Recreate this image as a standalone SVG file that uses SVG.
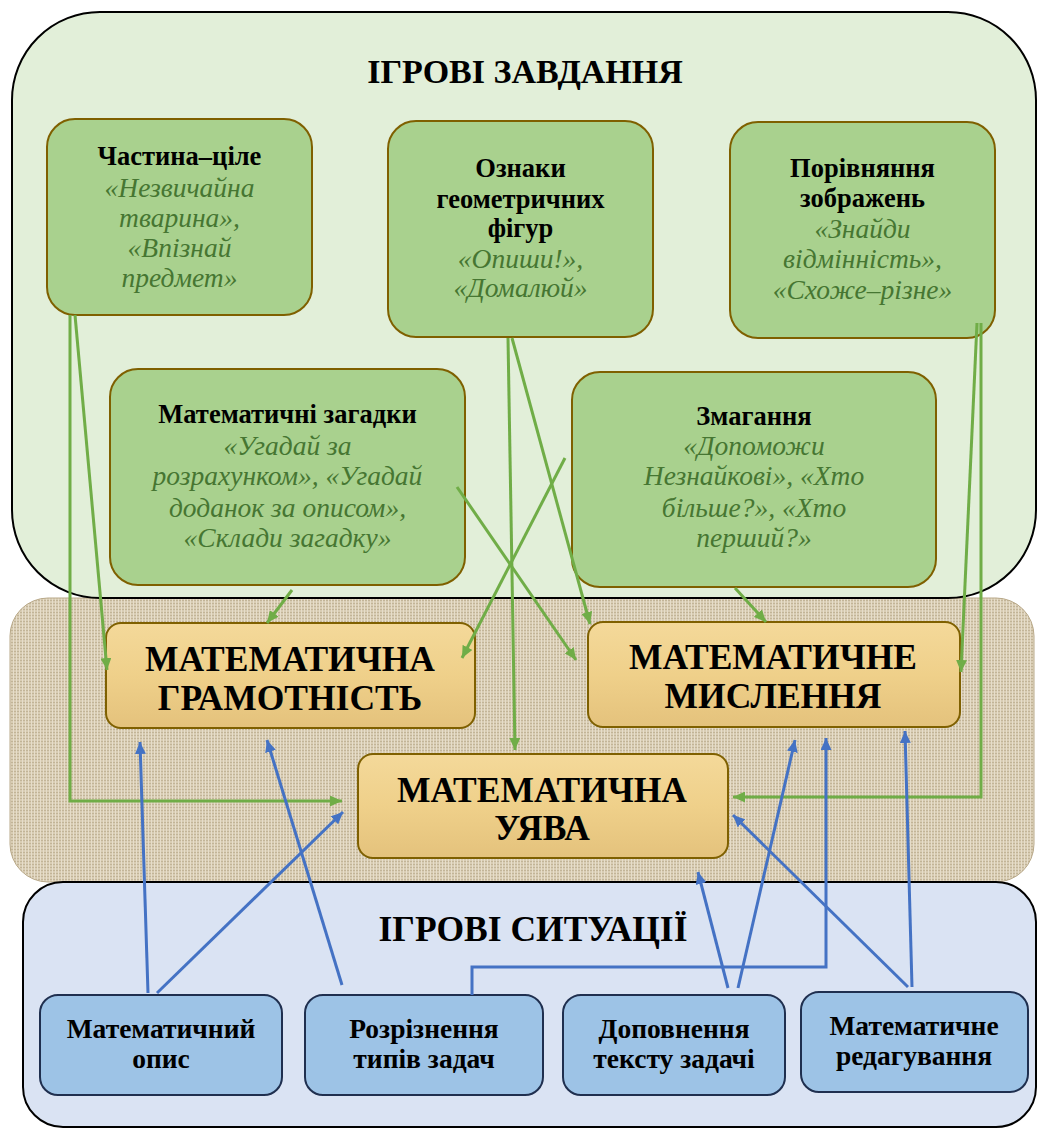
<svg xmlns="http://www.w3.org/2000/svg" width="1038" height="1131" viewBox="0 0 1038 1131">
<defs>
<pattern id="burlap" width="6" height="6" patternUnits="userSpaceOnUse">
<rect width="6" height="6" fill="#d8ccb3"/>
<path d="M0,0.5H6M0,3.5H6" stroke="#c2b497" stroke-width="1"/>
<path d="M1.5,0V6M4.5,0V6" stroke="#e6ddca" stroke-width="1"/>
</pattern>
<linearGradient id="parch" x1="0" y1="0" x2="0" y2="1">
<stop offset="0" stop-color="#f4d99a"/>
<stop offset="0.5" stop-color="#efd08a"/>
<stop offset="1" stop-color="#e4c27c"/>
</linearGradient>
<marker id="ag" markerWidth="12" markerHeight="11" refX="12" refY="5.5" orient="auto" markerUnits="userSpaceOnUse"><path d="M0,0 L12,5.5 L0,11 z" fill="#70ad47"/></marker>
<marker id="ab" markerWidth="12" markerHeight="11" refX="12" refY="5.5" orient="auto" markerUnits="userSpaceOnUse"><path d="M0,0 L12,5.5 L0,11 z" fill="#4472c4"/></marker>
</defs>
<style>
text{font-family:"Liberation Serif","DejaVu Serif",serif;text-anchor:middle;fill:#000}
.title{font-size:34px;font-weight:bold}
.title2{font-size:35.5px;font-weight:bold}
.gb{font-size:26.5px;font-weight:bold}
.gi{font-size:27.5px;font-style:italic;fill:#467632}
.ob{font-size:35.5px;font-weight:bold}
.bb{font-size:27.5px;font-weight:bold}
.gnode{fill:#a9d18e;stroke:#7f6000;stroke-width:2}
.onode{fill:url(#parch);stroke:#7f6000;stroke-width:2}
.bnode{fill:#9dc3e6;stroke:#1f2f4f;stroke-width:2}
.gl{fill:none;stroke:#70ad47;stroke-width:3;marker-end:url(#ag)}
.bl{fill:none;stroke:#4472c4;stroke-width:3;marker-end:url(#ab)}
</style>
<rect width="1038" height="1131" fill="#ffffff"/>

<g id="zone-middle">
<rect x="10" y="598" width="1024" height="284" rx="38" fill="url(#burlap)" stroke="#b8a888" stroke-width="1"/>
</g>
<g id="zone-top">
<rect x="12" y="12" width="1024" height="586" rx="88" fill="#e2efd9" stroke="#000" stroke-width="2"/>
<text class="title" x="525" y="83">ІГРОВІ ЗАВДАННЯ</text>
</g>
<g id="zone-bottom">
<rect x="23" y="882" width="1013" height="245" rx="40" fill="#dae3f3" stroke="#000" stroke-width="2"/>
<text class="title2" x="533" y="941">ІГРОВІ СИТУАЦІЇ</text>
</g>

<g id="node-chastyna">
<rect class="gnode" x="47" y="119" width="265" height="196" rx="28"/>
<text class="gb" x="179.5" y="165">Частина–ціле</text>
<text class="gi" x="179.5" y="197">«Незвичайна</text>
<text class="gi" x="179.5" y="227">тварина»,</text>
<text class="gi" x="179.5" y="257">«Впізнай</text>
<text class="gi" x="179.5" y="287">предмет»</text>
</g>
<g id="node-oznaky">
<rect class="gnode" x="388" y="121" width="265" height="216" rx="28"/>
<text class="gb" x="520.5" y="177">Ознаки</text>
<text class="gb" x="520.5" y="208">геометричних</text>
<text class="gb" x="520.5" y="237">фігур</text>
<text class="gi" x="520.5" y="268">«Опиши!»,</text>
<text class="gi" x="520.5" y="297">«Домалюй»</text>
</g>
<g id="node-porivniannia">
<rect class="gnode" x="730" y="122" width="265" height="216" rx="28"/>
<text class="gb" x="862.5" y="177">Порівняння</text>
<text class="gb" x="862.5" y="207">зображень</text>
<text class="gi" x="862.5" y="238">«Знайди</text>
<text class="gi" x="862.5" y="268">відмінність»,</text>
<text class="gi" x="862.5" y="299">«Схоже–різне»</text>
</g>
<g id="node-zahadky">
<rect class="gnode" x="110" y="369" width="355" height="216" rx="28"/>
<text class="gb" x="287.5" y="423">Математичні загадки</text>
<text class="gi" x="287.5" y="455">«Угадай за</text>
<text class="gi" x="287.5" y="485">розрахунком», «Угадай</text>
<text class="gi" x="287.5" y="517">доданок за описом»,</text>
<text class="gi" x="287.5" y="547">«Склади загадку»</text>
</g>
<g id="node-zmahannia">
<rect class="gnode" x="572" y="372" width="364" height="215" rx="28"/>
<text class="gb" x="754" y="425">Змагання</text>
<text class="gi" x="754" y="455">«Допоможи</text>
<text class="gi" x="754" y="485">Незнайкові», «Хто</text>
<text class="gi" x="754" y="517">більше?», «Хто</text>
<text class="gi" x="754" y="547">перший?»</text>
</g>

<g id="node-hramotnist">
<rect class="onode" x="106" y="623" width="369" height="105" rx="15"/>
<text class="ob" x="290" y="671">МАТЕМАТИЧНА</text>
<text class="ob" x="290" y="710">ГРАМОТНІСТЬ</text>
</g>
<g id="node-myslennia">
<rect class="onode" x="588" y="622" width="372" height="105" rx="15"/>
<text class="ob" x="773" y="669">МАТЕМАТИЧНЕ</text>
<text class="ob" x="773" y="708">МИСЛЕННЯ</text>
</g>
<g id="node-uyava">
<rect class="onode" x="358" y="754" width="370" height="104" rx="15"/>
<text class="ob" x="542" y="802">МАТЕМАТИЧНА</text>
<text class="ob" x="542" y="840">УЯВА</text>
</g>

<g id="node-opys">
<rect class="bnode" x="40" y="995" width="242" height="100" rx="18"/>
<text class="bb" x="161" y="1038">Математичний</text>
<text class="bb" x="161" y="1068">опис</text>
</g>
<g id="node-rozriznennia">
<rect class="bnode" x="305" y="995" width="238" height="100" rx="18"/>
<text class="bb" x="424" y="1038">Розрізнення</text>
<text class="bb" x="424" y="1068">типів задач</text>
</g>
<g id="node-dopovnennia">
<rect class="bnode" x="563" y="995" width="222" height="100" rx="18"/>
<text class="bb" x="674" y="1038">Доповнення</text>
<text class="bb" x="674" y="1068">тексту задачі</text>
</g>
<g id="node-redahuvannia">
<rect class="bnode" x="801" y="992" width="227" height="100" rx="18"/>
<text class="bb" x="914" y="1035">Математичне</text>
<text class="bb" x="914" y="1065">редагування</text>
</g>

<g id="connectors">
<path class="gl" d="M70,315 V801 H342"/>
<path class="gl" d="M75,315 L107,670"/>
<path class="gl" d="M508,338 L515,750"/>
<path class="gl" d="M512,338 L590,624"/>
<path class="gl" d="M292,590 L267,623"/>
<path class="gl" d="M565,458 L462,658"/>
<path class="gl" d="M457,487 L576,660"/>
<path class="gl" d="M735,588 L766,622"/>
<path class="gl" d="M977,323 L961,672"/>
<path class="gl" d="M981,323 V797 H733"/>
<path class="bl" d="M148,993 L140,742"/>
<path class="bl" d="M157,993 L343,812"/>
<path class="bl" d="M342,985 L267,740"/>
<path class="bl" d="M472,995 V967 H826 V738"/>
<path class="bl" d="M728,988 L698,872"/>
<path class="bl" d="M738,988 L795,740"/>
<path class="bl" d="M908,987 L733,815"/>
<path class="bl" d="M912,987 L905,731"/>
</g>
</svg>
